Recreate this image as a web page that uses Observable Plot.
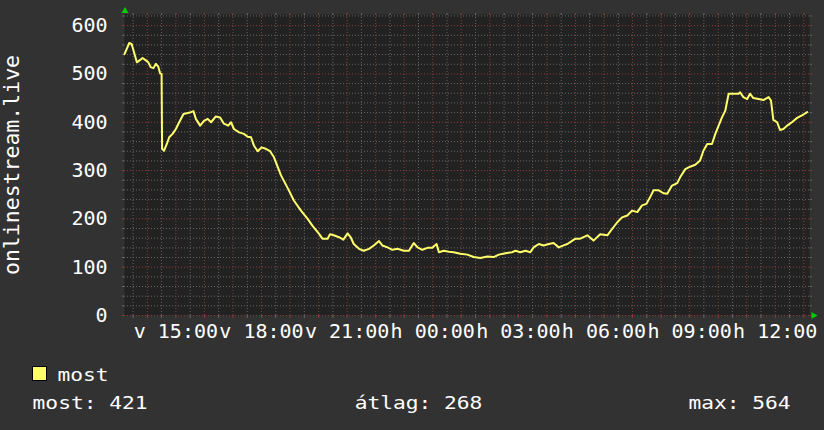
<!DOCTYPE html>
<html><head><meta charset="utf-8">
<script src="https://cdn.jsdelivr.net/npm/d3@7"></script>
<script src="https://cdn.jsdelivr.net/npm/@observablehq/plot@0.6"></script>
<style>
html,body{margin:0;padding:0;background:#323232;}
#wrap{width:824px;height:430px;overflow:hidden;background:#323232;}
#wrap svg{display:block}
</style></head><body><div id="wrap"></div>
<script>
// ---- data ----
const seriesName = "most";
const yAxisTitle = "onlinestream.live";
const dayAbbr = ["v","h","k","sze","cs","p","szo"];
const firstDay = "2024-03-10";   // vasárnap
const secondDay = "2024-03-11";  // hétfő
const windowStart = "2024-03-10T13:12";
const windowEnd = "2024-03-11T13:12";
const yMax = 623;
const yTicks = [0,100,200,300,400,500,600];
const times = ["13:12","13:22","13:27","13:32","13:38","13:45","13:50","13:57","14:02","14:07",
"14:13","14:18","14:23","14:27","14:30","14:31","14:35","14:41","14:46","14:53",
"15:00","15:07","15:16","15:25","15:32","15:37","15:42","15:51","15:59","16:07",
"16:14","16:24","16:33","16:41","16:50","16:56","17:02","17:13","17:23","17:31",
"17:38","17:44","17:52","18:00","18:09","18:18","18:26","18:33","18:41","18:49",
"18:57","19:08","19:23","19:37","19:47","20:01","20:08","20:19","20:24","20:32",
"20:43","20:52","21:01","21:08","21:14","21:25","21:35","21:46","21:56","22:07",
"22:14","22:25","22:35","22:46","22:59","23:10","23:20","23:28","23:38","23:49",
"23:59","00:08","00:13","00:23","00:34","00:44","00:58","01:13","01:26","01:40",
"01:55","02:08","02:19","02:33","02:47","02:54","03:04","03:15","03:25","03:32",
"03:43","03:53","04:04","04:14","04:25","04:35","04:43","04:49","05:00","05:10",
"05:25","05:38","05:52","06:07","06:17","06:28","06:38","06:49","06:59","07:10",
"07:20","07:29","07:37","07:44","07:55","08:05","08:13","08:23","08:34","08:40",
"08:51","09:01","09:12","09:22","09:29","09:37","09:47","09:54","10:01","10:08",
"10:15","10:22","10:32","10:43","10:46","10:53","11:01","11:07","11:14","11:25",
"11:35","11:46","11:51","11:56","12:04","12:10","12:17","12:25","12:35","12:46",
"12:56","13:07"];
const values = [541,564,562,545,524,529,533,528,524,514,
512,521,515,501,500,345,341,355,369,376,
386,400,417,419,421,423,407,393,403,407,
400,412,410,397,393,400,386,379,376,370,
369,352,340,348,345,340,328,310,290,275,
260,238,217,200,186,169,159,159,168,166,
162,157,170,161,148,138,134,138,145,154,
145,141,136,138,134,134,150,141,136,140,
140,148,131,134,132,131,128,126,121,119,
122,121,126,129,131,134,131,134,131,141,
148,145,148,150,141,145,148,152,159,159,
166,155,168,166,179,193,203,207,217,214,
228,231,245,259,259,253,252,269,274,286,
303,308,312,321,341,355,355,376,393,410,
424,459,459,459,462,452,448,459,450,448,
446,452,445,405,400,384,386,393,400,409,
414,421];
const statLabels = ["most","átlag","max"];
const statValues = [421,268,564];

// ---- styles ----
const lineColor = "#ffff6a";
const plotBg = "#222222";
const minorGrid = "#666666";
const majorGrid = "#8a3c3c";
const arrowColor = "#00cc00";
const textColor = "#ffffff";
const dash = "1,2";

// ---- build table ----
let day = firstDay, prev = -1;
const data = times.map((t, i) => {
  const [hh, mm] = t.split(":").map(Number);
  const m = hh * 60 + mm;
  if (m < prev) day = secondDay;
  prev = m;
  return {date: new Date(`${day}T${t}:00Z`), value: values[i]};
});
const x0 = new Date(windowStart + ":00Z"), x1 = new Date(windowEnd + ":00Z");
const minorXTicks = d3.utcMinute.every(30).range(x0, x1).filter(d => d.getUTCMinutes() !== 0);
const majorXTicks = d3.utcHour.every(1).range(x0, x1);
const labelXTicks = d3.utcHour.every(3).range(x0, x1);
const minorYTicks = d3.range(0, yMax, 20).filter(v => v % 100 !== 0);
const fmt = d3.utcFormat("%H:%M");

const plot = Plot.plot({
  width: 824, height: 345,
  marginLeft: 124, marginRight: 15, marginTop: 14, marginBottom: 30,
  style: {background: "transparent", color: textColor, fontFamily: "DejaVu Sans Mono", fontSize: "20px", overflow: "visible"},
  x: {type: "utc", domain: [x0, x1]},
  y: {domain: [0, yMax]},
  marks: [
    Plot.frame({fill: plotBg, stroke: "none"}),
    Plot.gridY(minorYTicks, {stroke: minorGrid, strokeOpacity: 1, strokeDasharray: dash}),
    Plot.gridX(minorXTicks, {stroke: minorGrid, strokeOpacity: 1, strokeDasharray: dash}),
    Plot.gridY(yTicks, {stroke: majorGrid, strokeOpacity: 1, strokeDasharray: dash}),
    Plot.gridX(majorXTicks, {stroke: majorGrid, strokeOpacity: 1, strokeDasharray: dash}),
    // tick stubs outside the frame
    Plot.axisX(minorXTicks, {anchor: "bottom", tickSize: 3, stroke: minorGrid, fill: "none", label: null}),
    Plot.axisX(majorXTicks, {anchor: "bottom", tickSize: 3, stroke: majorGrid, fill: "none", label: null}),
    Plot.axisX(minorXTicks, {anchor: "top", tickSize: 2, stroke: minorGrid, fill: "none", label: null}),
    Plot.axisX(majorXTicks, {anchor: "top", tickSize: 2, stroke: majorGrid, fill: "none", label: null}),
    Plot.axisY(minorYTicks, {anchor: "left", tickSize: 2, stroke: minorGrid, fill: "none", label: null}),
    Plot.axisY(yTicks, {anchor: "left", tickSize: 2, stroke: majorGrid, fill: "none", label: null}),
    Plot.axisY(minorYTicks, {anchor: "right", tickSize: 2, stroke: minorGrid, fill: "none", label: null}),
    Plot.axisY(yTicks, {anchor: "right", tickSize: 2, stroke: majorGrid, fill: "none", label: null}),
    // data
    Plot.line(data, {x: "date", y: "value", stroke: lineColor, strokeWidth: 2}),
    // axis arrows
    Plot.dot([0], {frameAnchor: "top-left", dx: 0.5, dy: -3.5, symbol: "triangle", r: 2.6, fill: arrowColor, stroke: "none"}),
    Plot.dot([0], {frameAnchor: "bottom-right", dx: 4, dy: 0, rotate: 90, symbol: "triangle", r: 2.6, fill: arrowColor, stroke: "none"}),
    // labels
    Plot.axisX(labelXTicks, {anchor: "bottom", tickSize: 0, tickPadding: 8, fill: textColor, fontSize: 20, label: null,
      tickFormat: d => `${dayAbbr[d.getUTCDay()]} ${fmt(d)}`}),
    Plot.axisY(yTicks, {anchor: "left", tickSize: 0, tickPadding: 17, fill: textColor, fontSize: 20, label: null}),
    Plot.text([yAxisTitle], {frameAnchor: "left", rotate: -90, dx: -112.5, fill: textColor, fontSize: 21.5, textAnchor: "middle", lineAnchor: "middle"})
  ]
});
const wrap = document.getElementById("wrap");
wrap.appendChild(plot);

// ---- legend below ----
const ns = "http://www.w3.org/2000/svg";
const leg = document.createElementNS(ns, "svg");
leg.setAttribute("width", 824); leg.setAttribute("height", 85);
leg.style.fontFamily = "DejaVu Sans Mono";
leg.style.fontSize = "17.4px";
leg.setAttribute("fill", textColor);
const sw = document.createElementNS(ns, "rect");
sw.setAttribute("x", 32.5); sw.setAttribute("y", 21.5); sw.setAttribute("width", 14); sw.setAttribute("height", 14);
sw.setAttribute("fill", lineColor); sw.setAttribute("stroke", "#000"); sw.setAttribute("stroke-width", 1);
leg.appendChild(sw);
function addText(str, x, y) {
  const t = document.createElementNS(ns, "text");
  t.setAttribute("transform", `translate(${x},${y}) scale(1.22,1)`);
  t.textContent = str;
  leg.appendChild(t);
}
addText(seriesName, 57.5, 36);
const statX = [32.6, 354.7, 688.4];
statLabels.forEach((l, i) => addText(`${l}: ${statValues[i]}`, statX[i], 64.3));
wrap.appendChild(leg);
</script></body></html>
